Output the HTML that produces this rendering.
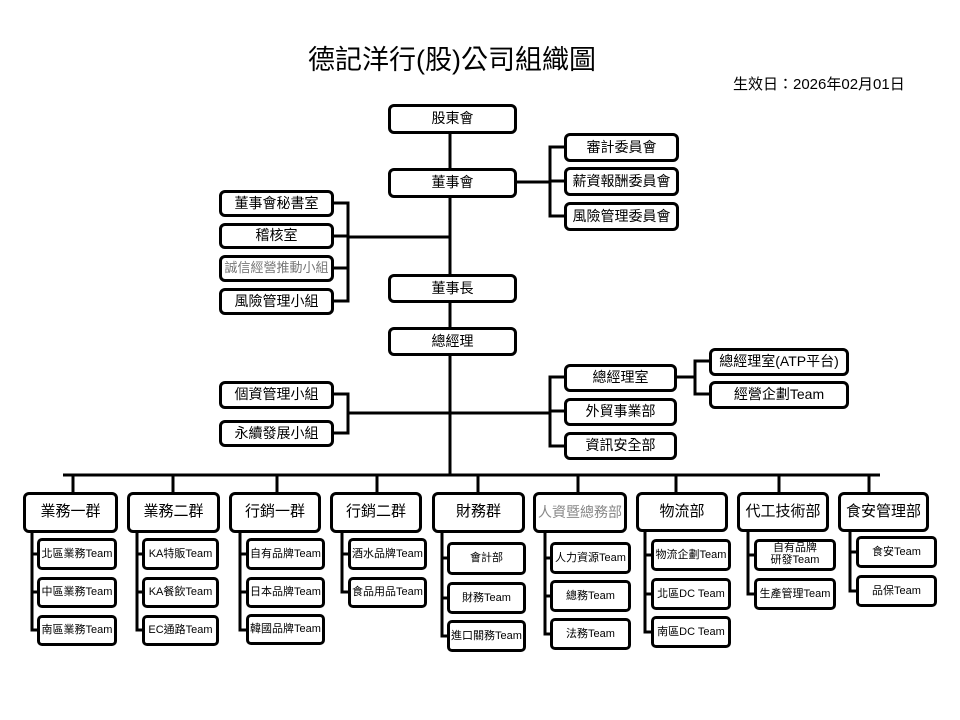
<!DOCTYPE html>
<html><head><meta charset="utf-8"><style>
body{margin:0;background:#fff;}
#c{position:relative;width:960px;height:720px;overflow:hidden;font-family:"Liberation Sans","Noto Sans CJK TC",sans-serif;color:#000;}
.b{position:absolute;box-sizing:border-box;border:3px solid #000;border-radius:6px;background:#fff;display:flex;align-items:center;justify-content:center;text-align:center;white-space:nowrap;font-size:14px;line-height:1.1;}
.g{font-size:15px;}
.s{font-size:11px;border-radius:5px;}
svg{position:absolute;left:0;top:0;}
</style></head><body><div id="c">
<svg width="960" height="720" stroke="#000" stroke-width="3" fill="none">
<line x1="450" y1="133" x2="450" y2="476"/>
<polyline points="517,182 550,182"/>
<polyline points="564,147 550,147 550,216 564,216"/>
<line x1="550" y1="181" x2="564" y2="181"/>
<polyline points="334,203 348,203 348,301 334,301"/>
<line x1="334" y1="236" x2="348" y2="236"/>
<line x1="334" y1="268" x2="348" y2="268"/>
<line x1="348" y1="237" x2="450" y2="237"/>
<polyline points="334,394 348,394 348,433 334,433"/>
<line x1="348" y1="413" x2="550" y2="413"/>
<polyline points="564,377 550,377 550,446 564,446"/>
<line x1="550" y1="411" x2="564" y2="411"/>
<line x1="677" y1="377" x2="695" y2="377"/>
<polyline points="709,361 695,361 695,394 709,394"/>
<line x1="63" y1="475" x2="880" y2="475"/>
<line x1="73" y1="475" x2="73" y2="492"/>
<line x1="173" y1="475" x2="173" y2="492"/>
<line x1="277" y1="475" x2="277" y2="492"/>
<line x1="377" y1="475" x2="377" y2="492"/>
<line x1="478" y1="475" x2="478" y2="492"/>
<line x1="578" y1="475" x2="578" y2="492"/>
<line x1="676" y1="475" x2="676" y2="492"/>
<line x1="779" y1="475" x2="779" y2="492"/>
<line x1="869" y1="475" x2="869" y2="492"/>
<polyline points="32,532 32,630 37,630"/><line x1="32" y1="554" x2="37" y2="554"/><line x1="32" y1="592" x2="37" y2="592"/>
<polyline points="137,532 137,630 142,630"/><line x1="137" y1="554" x2="142" y2="554"/><line x1="137" y1="592" x2="142" y2="592"/>
<polyline points="240,532 240,630 246,630"/><line x1="240" y1="554" x2="246" y2="554"/><line x1="240" y1="592" x2="246" y2="592"/>
<polyline points="342,532 342,592 348,592"/><line x1="342" y1="554" x2="348" y2="554"/>
<polyline points="442,532 442,636 447,636"/><line x1="442" y1="558" x2="447" y2="558"/><line x1="442" y1="598" x2="447" y2="598"/>
<polyline points="545,532 545,634 550,634"/><line x1="545" y1="558" x2="550" y2="558"/><line x1="545" y1="596" x2="550" y2="596"/>
<polyline points="645,532 645,632 651,632"/><line x1="645" y1="555" x2="651" y2="555"/><line x1="645" y1="594" x2="651" y2="594"/>
<polyline points="748,532 748,594 754,594"/><line x1="748" y1="555" x2="754" y2="555"/>
<polyline points="850,532 850,591 856,591"/><line x1="850" y1="552" x2="856" y2="552"/>
</svg>
<div style="position:absolute;left:308px;top:38px;font-size:27px;white-space:nowrap;">德記洋行(股)公司組織圖</div>
<div style="position:absolute;left:733px;top:73px;font-size:15px;white-space:nowrap;">生效日：2026年02月01日</div>

<div class="b" style="left:388px;top:104px;width:129px;height:30px;">股東會</div>
<div class="b" style="left:388px;top:168px;width:129px;height:30px;">董事會</div>
<div class="b" style="left:564px;top:133px;width:115px;height:29px;">審計委員會</div>
<div class="b" style="left:564px;top:167px;width:115px;height:29px;">薪資報酬委員會</div>
<div class="b" style="left:564px;top:202px;width:115px;height:29px;">風險管理委員會</div>
<div class="b" style="left:219px;top:190px;width:115px;height:27px;">董事會秘書室</div>
<div class="b" style="left:219px;top:223px;width:115px;height:26px;">稽核室</div>
<div class="b" style="left:219px;top:255px;width:115px;height:27px;color:#777;font-size:13px;">誠信經營推動小組</div>
<div class="b" style="left:219px;top:288px;width:115px;height:27px;">風險管理小組</div>
<div class="b" style="left:388px;top:274px;width:129px;height:29px;">董事長</div>
<div class="b" style="left:388px;top:327px;width:129px;height:29px;">總經理</div>
<div class="b" style="left:219px;top:381px;width:115px;height:28px;">個資管理小組</div>
<div class="b" style="left:219px;top:420px;width:115px;height:27px;">永續發展小組</div>
<div class="b" style="left:564px;top:364px;width:113px;height:28px;">總經理室</div>
<div class="b" style="left:564px;top:398px;width:113px;height:28px;">外貿事業部</div>
<div class="b" style="left:564px;top:432px;width:113px;height:28px;">資訊安全部</div>
<div class="b" style="left:709px;top:348px;width:140px;height:28px;">總經理室(ATP平台)</div>
<div class="b" style="left:709px;top:381px;width:140px;height:28px;">經營企劃Team</div>

<div class="b g" style="left:23px;top:492px;width:95px;height:41px;">業務一群</div>
<div class="b g" style="left:127px;top:492px;width:93px;height:41px;">業務二群</div>
<div class="b g" style="left:229px;top:492px;width:92px;height:41px;">行銷一群</div>
<div class="b g" style="left:330px;top:492px;width:92px;height:41px;">行銷二群</div>
<div class="b g" style="left:432px;top:492px;width:93px;height:41px;">財務群</div>
<div class="b g" style="left:533px;top:492px;width:94px;height:41px;color:#888;font-size:14px;">人資暨總務部</div>
<div class="b g" style="left:636px;top:492px;width:92px;height:40px;">物流部</div>
<div class="b g" style="left:737px;top:492px;width:92px;height:40px;">代工技術部</div>
<div class="b g" style="left:838px;top:492px;width:91px;height:40px;">食安管理部</div>

<div class="b s" style="left:37px;top:538px;width:80px;height:32px;">北區業務Team</div>
<div class="b s" style="left:37px;top:577px;width:80px;height:31px;">中區業務Team</div>
<div class="b s" style="left:37px;top:615px;width:80px;height:31px;">南區業務Team</div>
<div class="b s" style="left:142px;top:538px;width:77px;height:32px;">KA特販Team</div>
<div class="b s" style="left:142px;top:577px;width:77px;height:31px;">KA餐飲Team</div>
<div class="b s" style="left:142px;top:615px;width:77px;height:31px;">EC通路Team</div>
<div class="b s" style="left:246px;top:538px;width:79px;height:32px;">自有品牌Team</div>
<div class="b s" style="left:246px;top:577px;width:79px;height:31px;">日本品牌Team</div>
<div class="b s" style="left:246px;top:614px;width:79px;height:31px;">韓國品牌Team</div>
<div class="b s" style="left:348px;top:538px;width:79px;height:32px;">酒水品牌Team</div>
<div class="b s" style="left:348px;top:577px;width:79px;height:31px;">食品用品Team</div>
<div class="b s" style="left:447px;top:542px;width:79px;height:33px;">會計部</div>
<div class="b s" style="left:447px;top:582px;width:79px;height:32px;">財務Team</div>
<div class="b s" style="left:447px;top:620px;width:79px;height:32px;">進口關務Team</div>
<div class="b s" style="left:550px;top:542px;width:81px;height:32px;">人力資源Team</div>
<div class="b s" style="left:550px;top:580px;width:81px;height:32px;">總務Team</div>
<div class="b s" style="left:550px;top:618px;width:81px;height:32px;">法務Team</div>
<div class="b s" style="left:651px;top:539px;width:80px;height:32px;">物流企劃Team</div>
<div class="b s" style="left:651px;top:578px;width:80px;height:32px;">北區DC Team</div>
<div class="b s" style="left:651px;top:616px;width:80px;height:32px;">南區DC Team</div>
<div class="b s" style="left:754px;top:539px;width:82px;height:32px;white-space:normal;line-height:1.05;">自有品牌<br>研發Team</div>
<div class="b s" style="left:754px;top:578px;width:82px;height:32px;">生產管理Team</div>
<div class="b s" style="left:856px;top:536px;width:81px;height:32px;">食安Team</div>
<div class="b s" style="left:856px;top:575px;width:81px;height:32px;">品保Team</div>
</div></body></html>
